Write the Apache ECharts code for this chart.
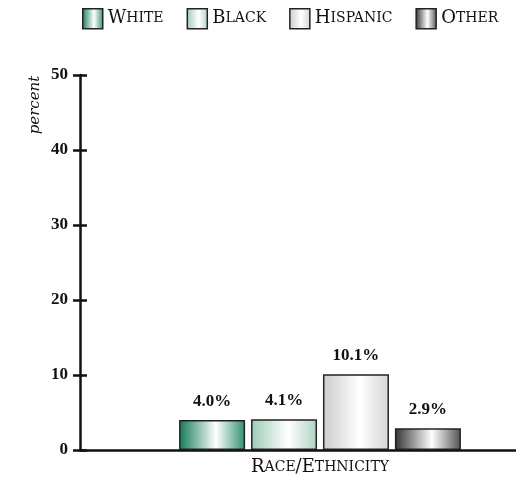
<!DOCTYPE html>
<html>
<head>
<meta charset="utf-8">
<script src="https://cdn.jsdelivr.net/npm/echarts@6/dist/echarts.min.js"></script>
<style>
  html, body { margin: 0; padding: 0; background: #fff; }
  #chart { width: 516px; height: 480px; }
</style>
</head>
<body>
<div id="chart"></div>
<script>
// Share of each group, by race/ethnicity (percent)
const categories = ['Race/Ethnicity'];
const seriesNames = ['White', 'Black', 'Hispanic', 'Other'];
const whiteValues = [4.0];
const blackValues = [4.1];
const hispanicValues = [10.1];
const otherValues = [2.9];
const yTicks = [0, 10, 20, 30, 40, 50];

// Left and right edge shades of each cylinder-style bar
const edgeLeft = ['#127a5a', '#9dcab6', '#cccccc', '#333333'];
const edgeRight = ['#2f9070', '#aed3c2', '#d4d4d4', '#505050'];
const CAPS_FONT = '"DejaVu Serif", "Liberation Serif", serif';
const NUM_FONT = '"Liberation Serif", "DejaVu Serif", serif';
const INK = '#111111';

// Small-caps rendering: first letter large, rest in smaller capitals
function smallCaps(str) {
  return str.split(/([\/ ])/).map(function (w) {
    if (!w) return '';
    if (w === '/' || w === ' ') return '{c|' + w + '}';
    return '{c|' + w.charAt(0).toUpperCase() + '}' + (w.length > 1 ? '{s|' + w.slice(1).toUpperCase() + '}' : '');
  }).join('');
}
const capsRich = {
  c: { fontFamily: CAPS_FONT, fontSize: 18, color: INK },
  s: { fontFamily: CAPS_FONT, fontSize: 14, color: INK }
};

function barGradient(i) {
  return new echarts.graphic.LinearGradient(0, 0, 1, 0, [
    { offset: 0, color: edgeLeft[i] },
    { offset: 0.56, color: '#ffffff' },
    { offset: 1, color: edgeRight[i] }
  ]);
}

const valueSets = [whiteValues, blackValues, hispanicValues, otherValues];

const chart = echarts.init(document.getElementById('chart'), null, { renderer: 'canvas' });

const series = seriesNames.map(function (name, i) {
  return {
    name: name,
    type: 'bar',
    data: valueSets[i],
    barWidth: 66,
    barGap: '9%',
    itemStyle: {
      color: barGradient(i),
      borderColor: '#222',
      borderWidth: 1.5
    },
    label: {
      show: true,
      position: 'top',
      distance: 10,
      formatter: function (p) { return p.value.toFixed(1) + '%'; },
      fontFamily: NUM_FONT,
      fontSize: 17,
      fontWeight: 'bold',
      color: INK
    }
  };
});

chart.setOption({
  animation: false,
  backgroundColor: '#ffffff',
  legend: {
    data: seriesNames.map(function (n, i) {
      return { name: n, itemStyle: { color: barGradient(i), borderColor: '#222', borderWidth: 1.5 } };
    }),
    left: 82,
    top: 8,
    padding: 0,
    itemWidth: 20,
    itemHeight: 20,
    itemGap: 23,
    icon: 'rect',
    formatter: function (n) { return smallCaps(n); },
    textStyle: { rich: capsRich }
  },
  grid: { left: 80, right: -44, top: 75, bottom: 30, outerBoundsMode: 'none' },
  graphic: [{
    type: 'text',
    x: 35,
    y: 105,
    rotation: Math.PI / 2,
    style: {
      text: 'percent',
      font: 'italic 15px ' + CAPS_FONT,
      fill: INK,
      align: 'center',
      verticalAlign: 'middle'
    }
  }],
  xAxis: {
    type: 'category',
    data: categories,
    axisLine: { lineStyle: { color: '#111', width: 2.5 } },
    axisTick: { show: false },
    axisLabel: {
      formatter: function (v) { return smallCaps(v); },
      rich: capsRich,
      margin: 8
    }
  },
  yAxis: [{
    type: 'value',
    min: yTicks[0],
    max: yTicks[yTicks.length - 1],
    interval: yTicks[1] - yTicks[0],
    splitLine: { show: false },
    axisLine: { show: true, lineStyle: { color: '#111', width: 2.5 } },
    axisTick: { show: true, length: 7, lineStyle: { color: '#111', width: 2.5 } },
    axisLabel: {
      fontFamily: NUM_FONT,
      fontSize: 17,
      fontWeight: 'bold',
      color: INK,
      margin: 12
    }
  }, {
    type: 'value',
    position: 'left',
    min: yTicks[0],
    max: yTicks[yTicks.length - 1],
    interval: yTicks[1] - yTicks[0],
    splitLine: { show: false },
    axisLine: { show: false },
    axisTick: { show: true, inside: true, length: 7, lineStyle: { color: '#111', width: 2.5 } },
    axisLabel: { show: false }
  }],
  series: series
});
</script>
</body>
</html>
